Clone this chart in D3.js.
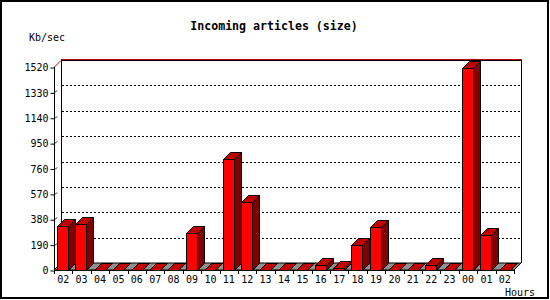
<!DOCTYPE html>
<html><head><meta charset="utf-8">
<script src="https://cdn.jsdelivr.net/npm/d3@7"></script>
<style>body{margin:0;background:#fff}svg{display:block}text{font-family:"DejaVu Sans Mono",monospace}</style>
</head><body><svg id="c" width="550" height="300"></svg>
<script>
const hours = ["02","03","04","05","06","07","08","09","10","11","12","13","14","15","16","17","18","19","20","21","22","23","00","01","02"];
const sizes = [330,344,0,0,0,0,0,277,0,828,509,0,0,0,35,12,187,322,0,0,35,0,1515,262,0];
const yTicks = [0,190,380,570,760,950,1140,1330,1520];
const title = "Incoming articles (size)";
const yLabel = "Kb/sec";
const xLabel = "Hours";

const svg = d3.select("#c");
const D = 7; // depth offset
const left = 54, right = 514, y0 = 270, yTop = 67;
const x = d3.scaleBand().domain(d3.range(hours.length)).range([left, right]);
const y = d3.scaleLinear().domain([0, 1520]).range([y0, yTop]);

svg.append("rect").attr("x",1).attr("y",1).attr("width",547).attr("height",297)
  .attr("fill","#fff").attr("stroke","#000").attr("stroke-width",2);

svg.append("text").attr("x",274).attr("y",30).attr("text-anchor","middle")
  .attr("font-weight","bold").attr("font-size","11.6px").text(title);
svg.append("text").attr("x",29).attr("y",41).attr("font-size","10px").text(yLabel);
svg.append("text").attr("x",505).attr("y",296).attr("font-size","10px").text(xLabel);

const g = svg.append("g");
// back plane verticals
g.append("line").attr("x1",left+D+0.5).attr("x2",left+D+0.5).attr("y1",yTop-D).attr("y2",y0-D).attr("stroke","#000");
g.append("line").attr("x1",right+D+0.5).attr("x2",right+D+0.5).attr("y1",yTop-D).attr("y2",y0-D).attr("stroke","#000");
// gridlines (dashed, back plane)
yTicks.slice(1, -1).forEach(v => {
  const yy = Math.round(y(v)) - D + 0.5;
  g.append("line").attr("x1",left+D+1).attr("x2",right+D).attr("y1",yy).attr("y2",yy)
    .attr("stroke","#000").attr("stroke-dasharray","2,2");
  const fy = Math.round(y(v));
  g.append("line").attr("x1",left+1).attr("y1",fy+0.5).attr("x2",left+3).attr("y2",fy-1.5).attr("stroke","#000");
});
// top edge
const ty = Math.round(y(1520));
g.append("line").attr("x1",left+D).attr("x2",right+D+1).attr("y1",ty-D+0.5).attr("y2",ty-D+0.5).attr("stroke","#000");
g.append("line").attr("x1",left+D).attr("x2",right+D+1).attr("y1",ty-D-0.5).attr("y2",ty-D-0.5).attr("stroke","#c00000");
g.append("line").attr("x1",left).attr("y1",ty+0.5).attr("x2",left+D).attr("y2",ty-D+0.5).attr("stroke","#c00000");

// floor
g.append("polygon").attr("points",[[left,y0],[right,y0],[right+D,y0-D],[left+D,y0-D]].map(p=>p.join(",")).join(" "))
  .attr("fill","#909090").attr("stroke","#000").attr("stroke-width",1);

// bars
const bw = 11, off = 3;
sizes.forEach((v, i) => {
  const bx = Math.round(x(i) + off) + 0.5;
  const by = Math.round(y(v)) + 0.5;
  const b0 = y0 + 0.5;
  // top face
  g.append("polygon").attr("points",[[bx,by],[bx+bw,by],[bx+bw+D,by-D],[bx+D,by-D]].map(p=>p.join(",")).join(" "))
    .attr("fill","#c00000").attr("stroke","#000");
  if (b0 - by >= 1) {
    g.append("polygon").attr("points",[[bx+bw,by],[bx+bw+D,by-D],[bx+bw+D,b0-D],[bx+bw,b0]].map(p=>p.join(",")).join(" "))
      .attr("fill","#800000").attr("stroke","#000");
    g.append("rect").attr("x",bx).attr("y",by).attr("width",bw).attr("height",b0-by)
      .attr("fill","#ff0000").attr("stroke","#000");
  }
});

// front y axis
g.append("line").attr("x1",left+0.5).attr("x2",left+0.5).attr("y1",yTop).attr("y2",y0+1).attr("stroke","#000");
const yAxis = d3.axisLeft(y).tickValues(yTicks).tickSize(4).tickPadding(2).tickFormat(d3.format("d"));
const ya = svg.append("g").attr("transform",`translate(${left+0.5},0.5)`).call(yAxis);
ya.select(".domain").remove();
ya.selectAll("text").attr("font-size","10px").attr("font-family","DejaVu Sans Mono").attr("fill","#000");

// x axis
g.append("line").attr("x1",left).attr("x2",right+1).attr("y1",y0+0.5).attr("y2",y0+0.5).attr("stroke","#000");
const xs = svg.append("g");
d3.range(hours.length + 1).forEach(i => {
  const xx = Math.round(left + i * x.bandwidth()) + 0.5;
  xs.append("line").attr("x1",xx).attr("x2",xx).attr("y1",y0).attr("y2",y0+4).attr("stroke","#000");
});
xs.selectAll("text.h").data(hours).join("text").attr("class","h")
  .attr("x",(d,i)=>x(i)+x.bandwidth()/2).attr("y",y0+13).attr("text-anchor","middle")
  .attr("font-size","10px").text(d=>d);
</script></body></html>
